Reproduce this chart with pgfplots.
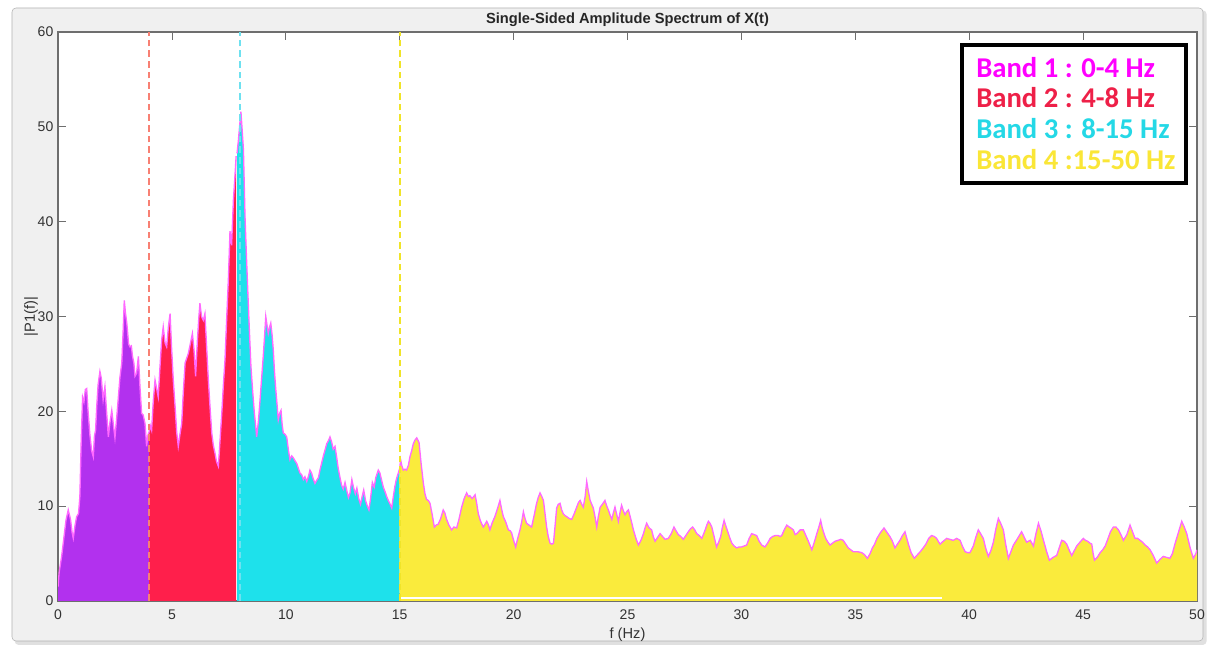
\documentclass[border=0pt]{standalone}
\usepackage{fontspec}
\setmainfont{Liberation Sans}
\newfontfamily\calfont{Carlito}
\usepackage{pgfplots}
\usepackage{pgfplotstable}
\pgfplotsset{compat=1.18}

\definecolor{bandA}{RGB}{178,49,238}
\definecolor{bandB}{RGB}{255,31,75}
\definecolor{bandC}{RGB}{30,225,235}
\definecolor{bandD}{RGB}{250,235,60}
\definecolor{specline}{RGB}{255,105,255}
\definecolor{axgray}{RGB}{110,110,110}
\definecolor{txtgray}{RGB}{50,50,50}
\definecolor{panel}{RGB}{240,240,240}
\definecolor{dashA}{RGB}{248,128,115}
\definecolor{dashB}{RGB}{110,225,240}
\definecolor{dashC}{RGB}{240,228,40}
\definecolor{legA}{RGB}{255,0,255}
\definecolor{legB}{RGB}{238,32,72}
\definecolor{legC}{RGB}{36,216,230}
\definecolor{legD}{RGB}{250,230,55}

% Band 1: 0-4 Hz
\pgfplotstableread{
f P
0.00 1.5
0.05 3.0
0.16 4.7
0.25 6.5
0.35 8.5
0.45 9.6
0.55 8.6
0.62 7.2
0.67 6.6
0.75 8.0
0.82 8.9
0.90 9.2
0.96 11.0
1.02 17.0
1.08 21.5
1.14 21.0
1.20 22.3
1.26 22.4
1.32 20.0
1.40 17.5
1.48 15.8
1.55 15.2
1.60 17.4
1.65 18.0
1.70 20.5
1.76 22.8
1.84 24.2
1.90 23.5
1.98 21.2
2.06 22.6
2.12 20.4
2.21 17.3
2.28 18.8
2.36 20.1
2.43 18.6
2.50 17.2
2.58 19.4
2.65 21.5
2.72 23.6
2.80 25.1
2.86 28.5
2.91 31.7
2.96 30.4
3.02 29.3
3.10 27.1
3.16 26.8
3.22 26.9
3.27 25.8
3.33 25.1
3.38 23.7
3.45 24.0
3.53 25.8
3.60 22.5
3.67 19.8
3.74 19.6
3.82 18.7
3.89 16.3
3.95 17.5
4.00 17.8
}\bandone

% Band 2: 4-8 Hz
\pgfplotstableread{
f P
4.00 17.8
4.05 18.5
4.11 18.0
4.18 21.0
4.26 23.3
4.33 22.4
4.40 21.5
4.48 24.8
4.55 27.5
4.62 28.9
4.70 27.2
4.77 26.8
4.85 29.0
4.92 30.3
4.98 27.0
5.06 23.3
5.14 20.5
5.21 17.8
5.28 16.3
5.35 17.5
5.43 18.7
5.50 22.0
5.58 25.1
5.65 25.6
5.72 26.1
5.80 27.0
5.90 28.2
5.97 26.5
6.04 23.7
6.12 27.5
6.18 29.8
6.23 31.4
6.30 30.0
6.38 29.6
6.45 30.3
6.52 27.0
6.60 23.3
6.68 20.2
6.75 17.7
6.82 16.4
6.89 15.6
6.96 14.7
7.04 14.2
7.11 16.8
7.19 19.8
7.26 22.8
7.33 25.4
7.40 29.5
7.48 34.0
7.55 39.0
7.62 37.5
7.70 42.3
7.76 44.5
7.82 46.9
}\bandtwo

% Band 3: 8-15 Hz
\pgfplotstableread{
f P
7.86 47.2
7.92 48.6
7.98 50.3
8.03 51.6
8.08 49.8
8.14 47.6
8.21 40.5
8.27 36.5
8.33 32.8
8.40 28.6
8.47 24.7
8.54 22.3
8.62 19.8
8.68 18.4
8.72 17.3
8.80 19.0
8.87 21.2
8.94 23.5
9.01 25.8
9.07 28.0
9.12 30.0
9.18 29.0
9.23 28.2
9.29 28.9
9.34 29.3
9.40 28.0
9.45 26.5
9.50 24.3
9.56 22.3
9.62 20.6
9.67 19.1
9.73 19.8
9.79 20.1
9.84 18.6
9.89 17.7
9.96 17.6
10.04 17.3
10.11 16.0
10.18 14.9
10.26 15.3
10.33 15.1
10.40 14.8
10.48 14.5
10.55 14.0
10.62 13.5
10.70 13.3
10.77 12.8
10.84 13.1
10.92 12.6
11.00 13.2
11.06 13.8
11.13 13.5
11.20 12.9
11.28 12.4
11.35 12.7
11.43 13.0
11.50 13.8
11.58 14.6
11.65 15.3
11.72 15.9
11.80 16.6
11.87 16.9
11.94 17.3
12.01 16.8
12.08 16.0
12.16 16.3
12.23 15.2
12.30 14.0
12.38 13.0
12.45 12.2
12.52 11.8
12.60 12.5
12.68 11.6
12.75 10.9
12.82 11.4
12.90 12.8
12.97 12.0
13.05 11.3
13.12 11.9
13.20 10.8
13.28 10.2
13.35 11.0
13.42 11.7
13.50 10.6
13.58 10.0
13.65 9.6
13.72 10.8
13.80 12.5
13.88 12.0
13.95 13.0
14.06 13.8
14.13 13.5
14.20 12.8
14.28 12.0
14.36 11.5
14.43 11.0
14.50 10.6
14.58 10.2
14.65 9.8
14.72 11.0
14.79 12.1
14.86 12.9
14.94 13.5
15.00 14.0
}\bandthree

% Band 4: 15-50 Hz
\pgfplotstableread{
f P
15.00 14.0
15.04 14.9
15.10 14.2
15.16 13.8
15.23 13.9
15.30 13.8
15.38 14.3
15.45 15.2
15.53 15.9
15.60 16.6
15.68 17.0
15.75 17.2
15.85 16.7
15.94 14.5
16.04 12.4
16.11 11.3
16.18 10.7
16.26 10.6
16.33 10.3
16.42 9.2
16.52 7.8
16.60 8.0
16.69 8.1
16.80 8.7
16.91 9.6
16.98 9.3
17.06 8.6
17.16 8.0
17.28 7.5
17.38 7.8
17.50 7.7
17.60 8.6
17.72 9.9
17.83 10.8
17.94 11.4
18.02 11.0
18.08 11.1
18.18 10.8
18.31 11.2
18.38 10.3
18.45 9.2
18.55 8.4
18.67 7.8
18.75 8.1
18.82 8.4
18.90 8.0
18.96 7.5
19.07 8.3
19.18 8.9
19.30 9.8
19.40 10.6
19.48 9.6
19.55 8.9
19.66 8.3
19.77 7.5
19.85 7.4
19.91 7.2
20.00 6.4
20.09 5.7
20.18 6.6
20.28 7.5
20.36 8.4
20.43 9.4
20.50 8.7
20.57 8.2
20.68 8.0
20.79 7.8
20.90 9.0
21.01 10.3
21.08 10.9
21.16 11.4
21.24 11.0
21.31 10.6
21.38 9.2
21.45 7.8
21.52 6.8
21.60 6.1
21.68 6.0
21.75 6.1
21.82 7.9
21.89 9.8
21.96 10.2
22.04 10.3
22.11 9.6
22.18 9.2
22.26 9.0
22.33 8.9
22.44 8.7
22.55 8.6
22.66 9.2
22.77 9.9
22.85 10.4
22.92 10.6
22.99 10.2
23.06 9.9
23.14 11.0
23.21 12.6
23.28 11.6
23.36 10.6
23.43 10.2
23.50 9.8
23.58 8.8
23.65 7.8
23.72 8.9
23.80 9.9
23.90 10.2
24.01 10.6
24.09 10.0
24.16 9.6
24.23 9.1
24.31 8.6
24.38 9.3
24.45 9.9
24.52 9.2
24.60 8.4
24.67 9.3
24.74 10.1
24.82 9.5
24.89 9.1
24.96 9.4
25.04 9.6
25.15 8.6
25.26 7.5
25.37 6.6
25.48 5.9
25.59 6.4
25.70 7.1
25.77 7.7
25.84 8.2
25.95 7.7
26.06 7.5
26.13 6.8
26.21 6.3
26.32 6.7
26.43 7.1
26.54 6.8
26.65 6.5
26.79 6.6
26.92 7.1
27.04 7.8
27.13 7.4
27.23 7.0
27.34 6.8
27.45 6.5
27.56 6.9
27.67 7.3
27.76 7.6
27.86 7.8
27.95 7.5
28.04 7.1
28.15 6.9
28.26 6.6
28.33 7.0
28.41 7.5
28.48 8.0
28.55 8.4
28.62 8.2
28.70 7.8
28.80 6.8
28.91 5.7
29.00 6.2
29.09 6.8
29.16 7.7
29.24 8.5
29.33 7.8
29.43 7.1
29.50 6.6
29.58 6.1
29.68 5.8
29.79 5.6
29.90 5.7
30.01 5.7
30.12 5.8
30.23 5.9
30.34 6.6
30.45 7.1
30.56 7.0
30.67 6.9
30.78 6.3
30.89 5.9
31.03 5.7
31.15 6.1
31.26 6.6
31.37 6.8
31.48 6.9
31.62 6.9
31.70 6.8
31.77 6.9
31.88 7.5
31.99 8.0
32.10 7.8
32.17 7.7
32.28 7.5
32.36 7.0
32.43 7.1
32.58 7.5
32.72 7.5
32.83 6.9
32.94 6.3
33.09 5.4
33.20 6.2
33.31 7.1
33.40 7.8
33.48 8.5
33.54 7.8
33.60 7.3
33.70 6.6
33.80 6.2
33.89 5.9
34.00 6.1
34.11 6.3
34.25 6.4
34.36 6.5
34.47 6.4
34.58 6.0
34.69 5.6
34.80 5.4
34.91 5.2
35.10 5.2
35.28 5.1
35.40 4.9
35.53 4.5
35.65 5.0
35.75 5.6
35.85 6.0
35.95 6.6
36.10 7.2
36.26 7.7
36.40 7.2
36.52 6.8
36.63 6.3
36.74 5.6
36.85 6.0
36.96 6.4
37.07 6.9
37.18 7.3
37.25 6.7
37.33 6.0
37.45 5.1
37.59 4.5
37.70 4.8
37.85 5.2
37.98 5.6
38.10 6.0
38.22 6.6
38.35 6.9
38.47 6.8
38.57 6.6
38.64 6.3
38.72 6.0
38.86 6.3
39.01 6.6
39.15 6.5
39.30 6.4
39.45 6.6
39.60 6.4
39.70 5.8
39.82 5.2
39.93 5.1
40.03 5.1
40.10 5.4
40.18 5.8
40.30 6.8
40.40 7.5
40.50 7.1
40.62 6.6
40.72 5.6
40.84 4.7
40.95 5.3
41.06 6.2
41.17 7.6
41.28 8.7
41.38 8.2
41.50 7.5
41.60 6.0
41.72 4.5
41.83 5.2
41.94 5.9
42.10 6.5
42.20 6.9
42.30 7.3
42.40 6.8
42.52 6.2
42.68 6.4
42.82 5.8
42.92 7.0
43.04 8.2
43.15 7.4
43.26 6.4
43.40 5.2
43.52 4.3
43.68 4.6
43.84 4.8
43.95 5.6
44.06 6.4
44.17 6.3
44.28 6.0
44.40 5.3
44.50 4.8
44.61 5.3
44.72 5.8
44.86 6.2
45.01 6.6
45.10 6.4
45.20 6.3
45.30 6.1
45.38 6.0
45.44 5.0
45.50 4.3
45.62 4.6
45.75 5.1
45.86 5.4
45.97 5.8
46.08 6.5
46.20 7.3
46.33 7.8
46.44 7.8
46.55 7.5
46.66 7.0
46.77 6.4
46.92 7.0
47.06 8.0
47.17 7.3
47.28 6.6
47.39 6.6
47.50 6.4
47.61 6.2
47.72 5.9
47.83 5.7
47.94 5.4
48.08 4.8
48.23 4.0
48.38 4.4
48.52 4.7
48.66 4.6
48.81 4.5
48.92 5.0
49.03 6.0
49.18 7.2
49.33 8.4
49.44 7.8
49.55 7.1
49.70 5.6
49.84 4.5
49.95 5.0
50.00 5.4
}\bandfour

\begin{document}
\begin{tikzpicture}
% figure window
\useasboundingbox (0,0) rectangle (907.5pt,486.75pt);
\fill[white] (0,0) rectangle (907.5pt,486.75pt);
\fill[black!12, rounded corners=3pt] (11pt,3pt) rectangle (905pt,479pt);
\fill[panel, draw=black!30, rounded corners=3pt] (9pt,6pt) rectangle (902.25pt,480.75pt);

\begin{axis}[
  scale only axis,
  width=854.25pt, height=426.75pt,
  at={(43.5pt,36pt)}, anchor=south west,
  xmin=0, xmax=50, ymin=0, ymax=60,
  xtick={0,5,...,50}, ytick={0,10,...,60},
  tick align=inside,
  major tick length=6pt,
  axis background/.style={fill=white},
  axis line style={axgray, line width=0.8pt},
  every tick/.style={axgray, line width=0.6pt},
  tick label style={font=\fontsize{10.5}{12}\selectfont, text=txtgray},
  xticklabel style={yshift=-3pt},
  /pgf/number format/assume math mode=true,
  title={Single-Sided Amplitude Spectrum of X(t)},
  title style={font=\bfseries\fontsize{11}{13}\selectfont, text=black!85, yshift=-5.5pt},
  xlabel={f (Hz)}, ylabel={|P1(f)|},
  label style={font=\fontsize{11}{13}\selectfont, text=txtgray},
  xlabel style={yshift=1pt},
  ylabel style={yshift=-7pt},
  clip=true,
]
% band areas
\addplot[fill=bandA, draw=none] table[x=f, y=P] {\bandone} \closedcycle;
\addplot[fill=bandB, draw=none] table[x=f, y=P] {\bandtwo} \closedcycle;
\addplot[fill=bandC, draw=none] table[x=f, y=P] {\bandthree} \closedcycle;
\addplot[fill=bandD, draw=none] table[x=f, y=P] {\bandfour} \closedcycle;
% thin light strip along the base of band 4
\addplot[white, line width=1.2pt] coordinates {(15.05,0.3) (38.8,0.3)};
% amplitude spectrum trace
\addplot[specline, line width=1pt] table[x=f, y=P] {\bandone};
\addplot[specline, line width=1pt] table[x=f, y=P] {\bandtwo};
\addplot[specline, line width=1pt] table[x=f, y=P] {\bandthree};
\addplot[specline, line width=1pt] table[x=f, y=P] {\bandfour};
% band limits
\addplot[dashA, line width=1.1pt, dash pattern=on 5pt off 3pt] coordinates {(4,0) (4,60)};
\addplot[dashB, line width=1.3pt, dash pattern=on 5pt off 3pt] coordinates {(8,0) (8,60)};
\addplot[dashC, line width=1.4pt, dash pattern=on 5pt off 3pt] coordinates {(15,0) (15,60)};
\end{axis}

% band key
\draw[black, line width=3pt, fill=white] (721.5pt,349.5pt) rectangle (889.5pt,453pt);
\begin{scope}[every node/.style={anchor=west, inner sep=0pt, font=\calfont\bfseries\fontsize{21.5}{24}\selectfont}]
\node[text=legA] at (732pt,435.75pt) {Band 1 : 0-4 Hz};
\node[text=legB] at (732pt,413.25pt) {Band 2 : 4-8 Hz};
\node[text=legC] at (732pt,390pt) {Band 3 : 8-15 Hz};
\node[text=legD] at (732pt,366.75pt) {Band 4 :15-50 Hz};
\end{scope}
\end{tikzpicture}
\end{document}
